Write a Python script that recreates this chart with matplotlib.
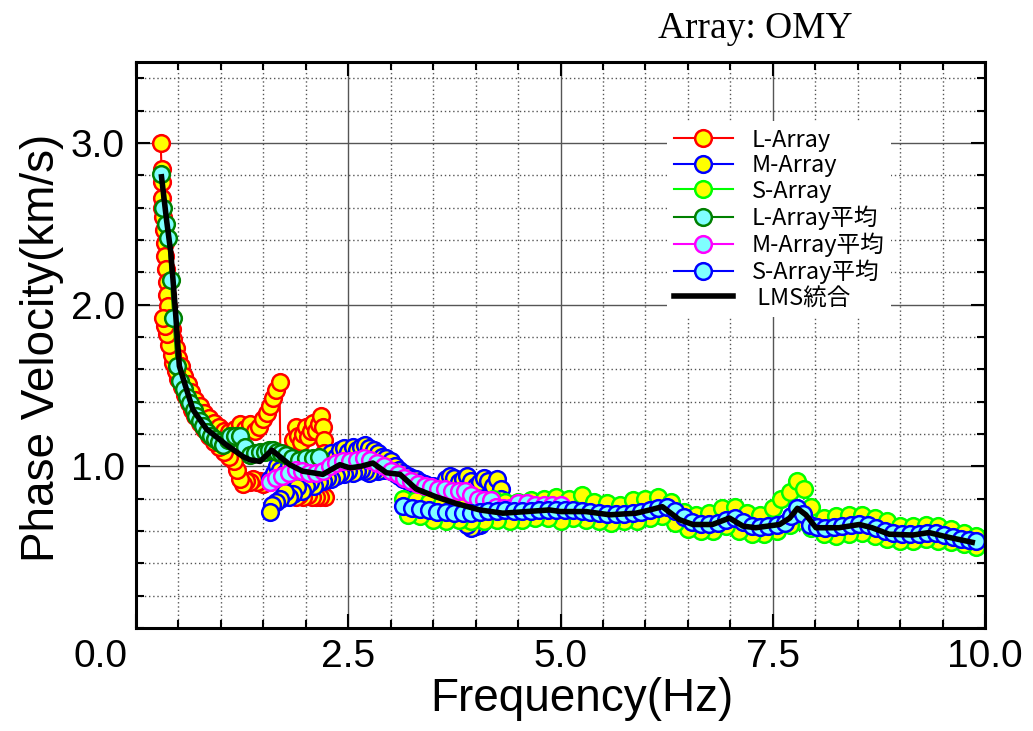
import numpy as np
import matplotlib.pyplot as plt
import matplotlib.transforms as mtransforms
from matplotlib.ticker import MultipleLocator

# L-Array (raw, one zigzag path)
L_freq = [0.29, 0.30, 0.31, 0.30, 0.31, 0.32, 0.33, 0.34, 0.34, 0.35, 0.36, 0.37, 0.38, 0.40, 0.42,
          0.44, 0.47, 0.50, 0.53, 0.57, 0.61, 0.65, 0.70, 0.75, 0.80, 0.86, 0.92, 0.98, 1.04, 1.10,
          1.16, 1.22, 1.28, 1.34, 1.40, 1.45, 1.50, 1.54, 1.58, 1.61, 1.65, 1.69,
          1.70, 1.74, 1.78, 1.82, 1.85, 1.88, 1.91, 1.94, 1.97, 2.00, 2.03, 2.06, 2.09, 2.12, 2.15,
          2.18, 2.20, 2.21, 2.21, 2.20, 2.19, 2.18,
          2.22, 2.17, 2.12, 2.07, 2.02, 1.97, 1.92, 1.88, 1.85, 1.82, 1.78, 1.74, 1.70, 1.66, 1.62,
          1.58, 1.54, 1.50, 1.46, 1.42, 1.38, 1.34, 1.30, 1.26, 1.22, 1.19, 1.15, 1.10, 1.04, 0.98,
          0.92, 0.86, 0.80, 0.75, 0.70, 0.66, 0.62, 0.58, 0.54, 0.50, 0.47, 0.44, 0.42, 0.39, 0.36,
          0.34, 0.32]
L_vel = [3.00, 2.84, 2.76, 2.66, 2.60, 2.54, 2.46, 2.38, 2.30, 2.22, 2.14, 2.06, 1.99, 1.92, 1.85,
         1.79, 1.73, 1.67, 1.62, 1.56, 1.51, 1.46, 1.41, 1.37, 1.33, 1.30, 1.27, 1.24, 1.22, 1.21,
         1.23, 1.26, 1.23, 1.26, 1.22, 1.24, 1.29, 1.33, 1.37, 1.42, 1.47, 1.52,
         1.06, 1.02, 1.05, 1.10, 1.16, 1.24, 1.19, 1.15, 1.20, 1.24, 1.18, 1.22, 1.27, 1.22, 1.26,
         1.31, 1.24, 1.16, 1.08, 1.00, 0.93, 0.87,
         0.81, 0.81, 0.81, 0.81, 0.82, 0.81, 0.82, 0.81, 0.86, 0.92, 0.97, 0.94, 0.98, 0.95, 0.92,
         0.90, 0.91, 0.89, 0.91, 0.90, 0.92, 0.90, 0.91, 0.89, 0.92, 0.98, 1.03, 1.06, 1.09, 1.12,
         1.15, 1.19, 1.23, 1.27, 1.31, 1.35, 1.39, 1.44, 1.49, 1.54, 1.59, 1.64, 1.69, 1.75, 1.82,
         1.87, 1.92]

# M-Array (raw, upper pass then lower pass back)
M_freq = [1.58, 1.62, 1.66, 1.70, 1.75, 1.80, 1.85, 1.90, 1.95, 2.00, 2.05, 2.10, 2.15, 2.20, 2.25,
          2.30, 2.35, 2.40, 2.45, 2.50, 2.55, 2.60, 2.65, 2.70, 2.75, 2.80, 2.85, 2.90, 2.95, 3.00,
          3.05, 3.10, 3.15, 3.20, 3.25, 3.30, 3.35, 3.40, 3.45, 3.50, 3.55, 3.60, 3.65, 3.70, 3.75,
          3.80, 3.85, 3.90, 3.95, 4.00, 4.05, 4.10, 4.15, 4.20, 4.25, 4.30,
          4.30, 4.25, 4.20, 4.15, 4.10, 4.05, 4.00, 3.95, 3.90, 3.85, 3.80, 3.75, 3.70, 3.65, 3.60,
          3.55, 3.50, 3.45, 3.40, 3.35, 3.30, 3.25, 3.20, 3.15, 3.10, 3.05, 3.00, 2.95, 2.90, 2.85,
          2.80, 2.75, 2.70, 2.65, 2.60, 2.55, 2.50, 2.45, 2.40, 2.35, 2.30, 2.25, 2.20, 2.15, 2.10,
          2.05, 2.00, 1.95, 1.90, 1.85, 1.80, 1.75, 1.70, 1.65, 1.60, 1.58]
M_vel = [0.92, 0.96, 1.00, 0.98, 0.96, 1.00, 1.02, 0.99, 1.02, 0.97, 1.00, 0.98, 1.02, 1.04, 1.05,
         1.08, 1.06, 1.10, 1.11, 1.09, 1.12, 1.10, 1.12, 1.13, 1.11, 1.10, 1.08, 1.06, 1.05, 1.03,
         1.00, 0.98, 0.96, 0.94, 0.93, 0.92, 0.90, 0.89, 0.88, 0.88, 0.87, 0.88, 0.92, 0.94, 0.93,
         0.90, 0.92, 0.94, 0.91, 0.88, 0.90, 0.93, 0.91, 0.88, 0.92, 0.86,
         0.80, 0.72, 0.70, 0.68, 0.66, 0.64, 0.63, 0.62, 0.64, 0.68, 0.72, 0.76, 0.78, 0.80, 0.81,
         0.82, 0.84, 0.85, 0.86, 0.87, 0.88, 0.90, 0.91, 0.92, 0.94, 0.96, 0.97, 0.98, 0.98, 0.97,
         0.98, 0.96, 0.97, 0.98, 0.97, 0.96, 0.97, 0.95, 0.96, 0.94, 0.92, 0.93, 0.91, 0.90, 0.88,
         0.90, 0.88, 0.85, 0.87, 0.83, 0.81, 0.84, 0.80, 0.78, 0.76, 0.72]

# S-Array (raw, upper pass then lower pass back)
S_freq = [3.15, 3.30, 3.45, 3.60, 3.75, 3.90, 4.05, 4.20, 4.35, 4.50, 4.65, 4.80, 4.95, 5.10, 5.25,
          5.40, 5.55, 5.70, 5.85, 6.00, 6.15, 6.30, 6.45, 6.60, 6.75, 6.90, 7.05, 7.20, 7.35, 7.50,
          7.60, 7.70, 7.78, 7.87, 7.95, 8.10, 8.25, 8.40, 8.55, 8.70, 8.85, 9.00, 9.15, 9.30, 9.45,
          9.60, 9.75, 9.90,
          9.90, 9.75, 9.60, 9.45, 9.30, 9.15, 9.00, 8.85, 8.70, 8.55, 8.40, 8.25, 8.10, 7.95, 7.80,
          7.70, 7.55, 7.40, 7.25, 7.10, 6.95, 6.80, 6.65, 6.50, 6.35, 6.20, 6.05, 5.90, 5.75, 5.60,
          5.45, 5.30, 5.15, 5.00, 4.85, 4.70, 4.55, 4.40, 4.25, 4.10, 3.95, 3.80, 3.65, 3.50, 3.35,
          3.20]
S_vel = [0.80, 0.79, 0.78, 0.77, 0.76, 0.78, 0.79, 0.80, 0.78, 0.78, 0.79, 0.80, 0.81, 0.80, 0.82,
         0.78, 0.77, 0.76, 0.79, 0.80, 0.81, 0.78, 0.72, 0.70, 0.71, 0.74, 0.75, 0.71, 0.70, 0.74,
         0.80, 0.84, 0.91, 0.86, 0.75, 0.68, 0.69, 0.70, 0.70, 0.68, 0.66, 0.63, 0.63, 0.64, 0.63,
         0.61, 0.59, 0.57,
         0.50, 0.52, 0.53, 0.54, 0.55, 0.54, 0.54, 0.55, 0.57, 0.59, 0.58, 0.57, 0.58, 0.62, 0.66,
         0.64, 0.60, 0.58, 0.58, 0.60, 0.63, 0.60, 0.60, 0.61, 0.65, 0.69, 0.68, 0.66, 0.66, 0.65,
         0.66, 0.67, 0.68, 0.66, 0.68, 0.68, 0.67, 0.66, 0.67, 0.66, 0.66, 0.67, 0.66, 0.67, 0.69,
         0.70]

# L-Array average
La_freq = [0.29, 0.32, 0.35, 0.38, 0.41, 0.44, 0.48, 0.52, 0.56, 0.60, 0.64, 0.68, 0.71, 0.75,
           0.79, 0.83, 0.88, 0.93, 0.98, 1.03, 1.08, 1.11, 1.16, 1.22, 1.28, 1.34, 1.40, 1.46,
           1.52, 1.57, 1.61, 1.66, 1.71, 1.77, 1.84, 1.92, 2.00, 2.08, 2.16]
La_vel = [2.81, 2.60, 2.50, 2.41, 2.15, 1.92, 1.62, 1.53, 1.48, 1.43, 1.39, 1.35, 1.31, 1.28,
          1.25, 1.21, 1.19, 1.17, 1.15, 1.13, 1.16, 1.19, 1.19, 1.19, 1.12, 1.07, 1.08, 1.09,
          1.09, 1.10, 1.10, 1.09, 1.08, 1.07, 1.05, 1.04, 1.05, 1.05, 1.06]

# M-Array average
Ma_freq = [1.58, 1.65, 1.72, 1.80, 1.88, 1.96, 2.04, 2.12, 2.20, 2.28, 2.36, 2.44, 2.52, 2.60,
           2.68, 2.76, 2.84, 2.92, 3.00, 3.08, 3.16, 3.24, 3.32, 3.40, 3.48, 3.56, 3.64, 3.72,
           3.80, 3.87, 3.95, 4.03, 4.10, 4.18, 4.24, 4.32, 4.40, 4.50, 4.60, 4.70, 4.80, 4.90, 5.00]
Ma_vel = [0.90, 0.93, 0.94, 0.96, 0.98, 0.97, 0.96, 0.96, 0.97, 1.00, 1.02, 1.03, 1.03, 1.04,
          1.05, 1.04, 1.02, 1.00, 0.97, 0.95, 0.93, 0.91, 0.89, 0.88, 0.87, 0.86, 0.86, 0.85,
          0.85, 0.85, 0.82, 0.80, 0.79, 0.79, 0.75, 0.74, 0.74, 0.77, 0.77, 0.76, 0.76, 0.76, 0.76]

# S-Array average
Sa_freq = [3.15, 3.25, 3.35, 3.45, 3.55, 3.65, 3.75, 3.85, 3.95, 4.05, 4.15, 4.25, 4.35, 4.45,
           4.55, 4.65, 4.75, 4.85, 4.95, 5.05, 5.15, 5.25, 5.35, 5.45, 5.55, 5.65, 5.75, 5.85,
           5.95, 6.05, 6.15, 6.25, 6.35, 6.45, 6.55, 6.65, 6.75, 6.85, 6.95, 7.05, 7.15, 7.25,
           7.35, 7.45, 7.55, 7.65, 7.72, 7.79, 7.86, 7.94, 8.02, 8.12, 8.22, 8.32, 8.42, 8.52,
           8.62, 8.72, 8.82, 8.92, 9.02, 9.12, 9.22, 9.32, 9.42, 9.52, 9.62, 9.72, 9.81, 9.89]
Sa_vel = [0.755, 0.745, 0.735, 0.728, 0.72, 0.715, 0.712, 0.71, 0.712, 0.718, 0.722, 0.725, 0.728,
          0.725, 0.722, 0.722, 0.728, 0.732, 0.73, 0.728, 0.73, 0.726, 0.72, 0.712, 0.705, 0.702,
          0.706, 0.712, 0.718, 0.73, 0.742, 0.748, 0.725, 0.685, 0.655, 0.645, 0.645, 0.652,
          0.668, 0.682, 0.655, 0.632, 0.625, 0.63, 0.636, 0.648, 0.69, 0.745, 0.705, 0.64, 0.622,
          0.62, 0.622, 0.628, 0.636, 0.642, 0.636, 0.62, 0.60, 0.585, 0.58, 0.58, 0.58, 0.59,
          0.585, 0.572, 0.562, 0.552, 0.545, 0.538]

# LMS combined curve
LMS_freq = [0.30, 0.36, 0.41, 0.46, 0.51, 0.58, 0.67, 0.83, 1.07, 1.26, 1.34, 1.46, 1.60, 1.81,
            1.96, 2.20, 2.40, 2.52, 2.65, 2.79, 2.95, 3.11, 3.30, 3.54, 3.77, 4.05, 4.32, 4.60,
            4.87, 5.00, 5.30, 5.58, 5.89, 6.05, 6.20, 6.40, 6.56, 6.79, 6.99, 7.15, 7.30, 7.58,
            7.70, 7.79, 7.89, 8.01, 8.28, 8.52, 8.67, 8.87, 9.15, 9.34, 9.58, 9.85]
LMS_vel = [2.79, 2.52, 2.32, 1.99, 1.62, 1.50, 1.35, 1.23, 1.13, 1.06, 1.04, 1.03, 1.10, 1.01,
           0.97, 0.95, 1.01, 0.99, 1.00, 1.02, 0.96, 0.95, 0.86, 0.81, 0.77, 0.73, 0.71, 0.72,
           0.73, 0.72, 0.72, 0.70, 0.71, 0.73, 0.75, 0.67, 0.64, 0.64, 0.68, 0.63, 0.62, 0.64,
           0.68, 0.74, 0.70, 0.62, 0.62, 0.64, 0.62, 0.58, 0.575, 0.59, 0.56, 0.53]

CYAN = '#7FFFFF'
fig = plt.figure(figsize=(10.33, 7.31), dpi=100)
ax = fig.add_axes([0.1317, 0.1409, 0.8218, 0.7743])

ms, mew, lw = 12, 1.8, 1.5
ax.plot(L_freq, L_vel, '-o', color='red', mfc='yellow', mec='red', ms=ms, mew=mew, lw=lw, label='L-Array')
ax.plot(M_freq, M_vel, '-o', color='blue', mfc='yellow', mec='blue', ms=ms, mew=mew, lw=lw, label='M-Array')
ax.plot(S_freq, S_vel, '-o', color='#00FF00', mfc='yellow', mec='#00FF00', ms=ms, mew=mew, lw=lw, label='S-Array')
ax.plot(La_freq, La_vel, '-o', color='#008000', mfc=CYAN, mec='#008000', ms=ms, mew=mew, lw=lw, label='L-Array平均')
ax.plot(Ma_freq, Ma_vel, '-o', color='#FF00FF', mfc=CYAN, mec='#FF00FF', ms=ms, mew=mew, lw=lw, label='M-Array平均')
ax.plot(Sa_freq, Sa_vel, '-o', color='blue', mfc=CYAN, mec='blue', ms=ms, mew=mew, lw=lw, label='S-Array平均')
ax.plot(LMS_freq, LMS_vel, '-', color='black', lw=4, label=' LMS統合')

ax.set_xlim(0, 10)
ax.set_ylim(0, 3.5)
ax.set_xticks([0, 2.5, 5, 7.5, 10])
ax.set_xticklabels(['0.0', '2.5', '5.0', '7.5', '10.0'])
ax.set_yticks([1, 2, 3])
ax.set_yticklabels(['1.0', '2.0', '3.0'])
ax.xaxis.set_minor_locator(MultipleLocator(0.5))
ax.yaxis.set_minor_locator(MultipleLocator(0.2))
ax.grid(which='major', color='#555555', lw=1.0, ls='-')
ax.grid(which='minor', color='#555555', lw=1.0, ls=(0, (1, 2)))
ax.set_axisbelow(True)
ax.tick_params(which='both', direction='in', top=True, right=True, width=1.5)
ax.tick_params(which='major', length=10, labelsize=28, pad=8)
ax.tick_params(which='minor', length=6)
for lab in ax.get_xticklabels() + ax.get_yticklabels():
    lab.set_family('Liberation Sans')
for sp in ax.spines.values():
    sp.set_linewidth(2.2)

# the 0.0 label sits left of its tick in the original
first = ax.get_xticklabels()[0]
first.set_transform(first.get_transform() + mtransforms.ScaledTranslation(-0.36, 0, fig.dpi_scale_trans))

ax.set_xlabel('Frequency(Hz)', fontsize=33, family='Liberation Sans')
ax.xaxis.set_label_coords(0.525, -0.087)
ax.set_ylabel('Phase Velocity(km/s)', fontsize=33, family='Liberation Sans')
ax.yaxis.set_label_coords(-0.085, 0.495)

fig.text(0.731, 0.96, 'Array: OMY', ha='center', va='center', fontsize=27, family='Liberation Serif')

leg = ax.legend(loc='upper left', bbox_to_anchor=(0.625, 0.895), borderaxespad=0,
                prop={'family': ['Noto Sans CJK JP', 'DejaVu Sans'], 'size': 17},
                handlelength=2.5, handletextpad=0.8, labelspacing=0.11, borderpad=0.3,
                frameon=True, facecolor='white', edgecolor='none', framealpha=1, fancybox=False)

fig.savefig('out.png', dpi=100)
